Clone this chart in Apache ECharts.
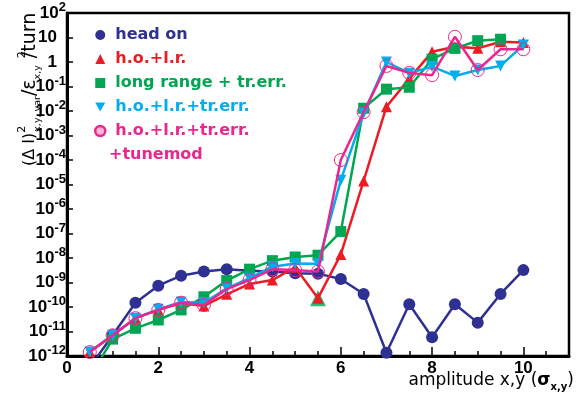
<!DOCTYPE html>
<html>
<head>
<meta charset="utf-8">
<script src="https://cdn.jsdelivr.net/npm/echarts@6/dist/echarts.min.js"></script>
<style>
  html, body { margin: 0; padding: 0; background: #fff; }
  #chart { width: 581px; height: 398px; }
</style>
</head>
<body>
<div id="chart"></div>
<script>
// amplitude in sigma
var amplitudes = [0.5, 1, 1.5, 2, 2.5, 3, 3.5, 4, 4.5, 5, 5.5, 6, 6.5, 7, 7.5, 8, 8.5, 9, 9.5, 10];

var headOn = [3.5e-13, 7e-12, 1.5e-10, 7.4e-10, 1.9e-9, 2.8e-9, 3.5e-9, 3.0e-9, 2.8e-9, 2.4e-9,
  2.3e-9, 1.4e-9, 3.4e-10, 1.35e-12, 1.3e-10, 5.8e-12, 1.3e-10, 2.3e-11, 3.4e-10, 3.2e-9];
var hoLr = [1.5e-12, 7e-12, 3.5e-11, 7.6e-11, 1.45e-10, 1.1e-10, 3.3e-10, 8.7e-10, 1.26e-9, 4.2e-9,
  2.3e-10, 1.4e-8, 1.4e-5, 0.015, 0.21, 2.6, 4.2, 3.6, 6.7, 6.2];
var longRangeTr = [1.4e-13, 4.9e-12, 1.35e-11, 2.95e-11, 7.6e-11, 2.6e-10, 1.2e-9, 3.5e-9, 7.8e-9, 1.1e-8,
  1.3e-8, 1.2e-7, 0.013, 0.078, 0.093, 1.3, 3.6, 7.4, 8.5, null];
var hoLrTr = [1.45e-12, 7e-12, 3.5e-11, 8e-11, 1.6e-10, 1.5e-10, 5.8e-10, 1.5e-9, 4.4e-9, 6e-9,
  5.8e-9, 1.5e-5, 0.008, 1.0, 0.35, 0.65, 0.27, 0.47, 0.69, 4.9];
var tunemod = [1.45e-12, 7e-12, 3.5e-11, 7.6e-11, 1.5e-10, 1.2e-10, 5.4e-10, 1.26e-9, 3.5e-9, 3.2e-9,
  2.8e-9, 1e-4, 0.009, 0.69, 0.36, 0.29, 10.7, 0.47, 3.3, 3.3];

// the lone green triangle under the red one at 5.5
var extraTriX = [5.5];
var extraTriY = [2.3e-10];

var names = ['head on', 'h.o.+l.r.', 'long range + tr.err.', 'h.o.+l.r.+tr.err.', 'h.o.+l.r.+tr.err.'];
var colors = ['#2e3192', '#ed1c24', '#00a651', '#00aeef', '#ec268f'];
var downTri = 'path://M0,0 L10,0 L5,9 Z';

var fontFam = '"DejaVu Sans", sans-serif';
var narrowFam = '"Liberation Sans Narrow", "Arial Narrow", "Liberation Sans", sans-serif';

function pairs(xs, ys) {
  var out = [];
  for (var i = 0; i < xs.length; i++) {
    out.push([xs[i], ys[i]]);
  }
  return out;
}

var chart = echarts.init(document.getElementById('chart'), null, { renderer: 'canvas' });

var option = {
  animation: false,
  grid: {
    left: 67, right: 12, top: 13, bottom: 42,
    show: true, borderColor: '#000', borderWidth: 2.5
  },
  legend: {
    orient: 'vertical',
    left: 89,
    top: 18,
    itemWidth: 10,
    itemHeight: 10,
    itemGap: 0,
    textStyle: {
      fontFamily: fontFam, fontSize: 16, fontWeight: 'bold', lineHeight: 24,
      padding: [0, 0, 0, 5]
    },
    data: [
      { name: names[0], icon: 'circle', textStyle: { color: colors[0] } },
      { name: names[1], icon: 'triangle', textStyle: { color: colors[1] } },
      { name: names[2], icon: 'rect', textStyle: { color: colors[2] } },
      { name: names[3] + ' ', icon: downTri, textStyle: { color: colors[3] } },
      {
        name: names[4], icon: 'circle',
        itemStyle: { color: '#f7b6d6', borderColor: colors[4], borderWidth: 2.5 },
        textStyle: { color: colors[4] }
      }
    ]
  },
  xAxis: {
    type: 'value',
    min: 0,
    max: 11,
    interval: 2,
    axisLine: { lineStyle: { color: '#000', width: 3 } },
    axisTick: { inside: true, length: 9, lineStyle: { width: 1.5, color: '#000' } },
    minorTick: { show: true, splitNumber: 4, length: 5, lineStyle: { width: 1.5, color: '#000' } },
    splitLine: { show: false },
    axisLabel: {
      color: '#000', fontFamily: narrowFam, fontWeight: 'bold', fontSize: 17, margin: 4,
      showMaxLabel: false
    }
  },
  yAxis: {
    type: 'log',
    logBase: 10,
    min: 1e-12,
    max: 100,
    interval: 1,
    splitNumber: 14,
    axisLine: { lineStyle: { color: '#000', width: 3 } },
    axisTick: { inside: true, length: 6, lineStyle: { width: 1.5, color: '#000' } },
    splitLine: { show: false },
    axisLabel: {
      margin: 1,
      formatter: function (v) {
        var e = Math.round(Math.log10(v));
        if (e === 0) return '{b|1}{p|}';
        if (e === 1) return '{b|10}{p|}';
        return '{b|10}{s|' + e + '}';
      },
      rich: {
        b: { fontFamily: narrowFam, fontWeight: 'bold', fontSize: 17, lineHeight: 24, color: '#000' },
        s: { fontFamily: narrowFam, fontWeight: 'bold', fontSize: 13, lineHeight: 10, verticalAlign: 'top', color: '#000' },
        p: { width: 9 }
      }
    }
  },
  graphic: [
    {
      type: 'text',
      x: 30,
      y: 166,
      rotation: Math.PI / 2,
      style: {
        text: '{d|(Δ I)}{sp|2}{sb|x,y, var}{m|/ε}{sb|x,y}{sp|  2}{m| /turn}',
        align: 'left',
        verticalAlign: 'middle',
        rich: {
          d: { fontFamily: fontFam, fontSize: 16, lineHeight: 26, fill: '#000' },
          m: { fontFamily: fontFam, fontSize: 19, lineHeight: 26, fill: '#000' },
          sp: { fontFamily: fontFam, fontSize: 11, lineHeight: 12, verticalAlign: 'top', width: 1, fill: '#000' },
          sb: { fontFamily: fontFam, fontSize: 9.5, lineHeight: 11, verticalAlign: 'bottom', fill: '#000' }
        }
      }
    },
    {
      type: 'text',
      x: 574,
      y: 381,
      style: {
        text: '{m|amplitude x,y (}{g|σ}{sb|x,y}{m|)}',
        align: 'right',
        verticalAlign: 'middle',
        rich: {
          m: { fontFamily: fontFam, fontSize: 17, lineHeight: 22, fill: '#000' },
          g: { fontFamily: fontFam, fontSize: 17, fontWeight: 'bold', lineHeight: 22, fill: '#000' },
          sb: { fontFamily: fontFam, fontSize: 10, fontWeight: 'bold', lineHeight: 12, verticalAlign: 'bottom', fill: '#000' }
        }
      }
    },
    {
      type: 'text',
      x: 109,
      y: 155,
      style: {
        text: '+tunemod',
        fontFamily: fontFam, fontSize: 16, fontWeight: 'bold',
        fill: colors[4],
        verticalAlign: 'middle'
      }
    }
  ],
  series: [
    {
      name: names[0], type: 'line', data: pairs(amplitudes, headOn),
      symbol: 'circle', symbolSize: 12,
      lineStyle: { color: colors[0], width: 2.5 }, itemStyle: { color: colors[0] }, z: 2
    },
    {
      name: 'green triangle', type: 'scatter', data: pairs(extraTriX, extraTriY),
      symbol: 'triangle', symbolSize: 16, itemStyle: { color: colors[2] }, z: 3
    },
    {
      name: names[1], type: 'line', data: pairs(amplitudes, hoLr),
      symbol: 'triangle', symbolSize: 11,
      lineStyle: { color: colors[1], width: 2.5 }, itemStyle: { color: colors[1] }, z: 4
    },
    {
      name: names[2], type: 'line', data: pairs(amplitudes, longRangeTr),
      symbol: 'rect', symbolSize: 11,
      lineStyle: { color: colors[2], width: 2.5 }, itemStyle: { color: colors[2] }, z: 5
    },
    {
      name: names[3] + ' ', type: 'line', data: pairs(amplitudes, hoLrTr),
      symbol: downTri, symbolSize: 11,
      lineStyle: { color: colors[3], width: 2.5 }, itemStyle: { color: colors[3] }, z: 6
    },
    {
      name: names[4], type: 'line', data: pairs(amplitudes, tunemod),
      symbol: 'circle', symbolSize: 13,
      lineStyle: { color: colors[4], width: 2.5 },
      itemStyle: { color: 'rgba(255,255,255,0)', borderWidth: 1, borderColor: colors[4] }, z: 7
    }
  ]
};

chart.setOption(option);
window.addEventListener('resize', chart.resize);
</script>
</body>
</html>
